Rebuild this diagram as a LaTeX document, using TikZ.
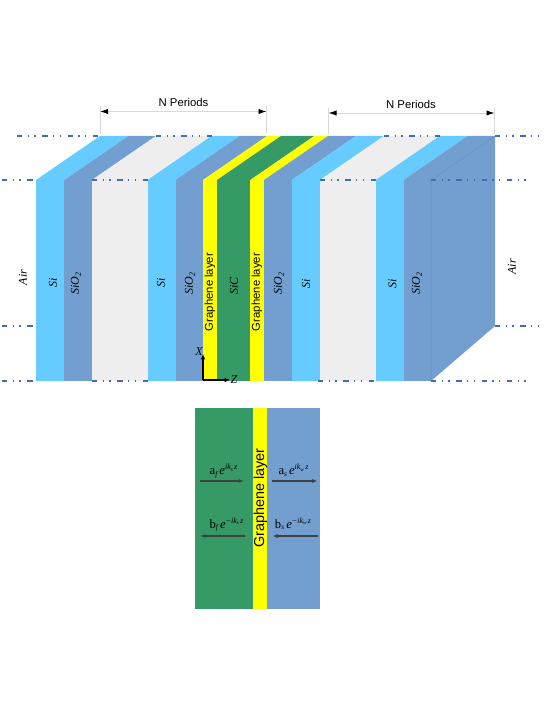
\documentclass[tikz,border=0pt]{standalone}
\usepackage{fontspec}
\setmainfont{Liberation Sans}
\newfontfamily\serifit{Liberation Serif}
\usetikzlibrary{arrows.meta}
\definecolor{cSi}{HTML}{66CCFF}
\definecolor{cOx}{HTML}{729FCF}
\definecolor{cGy}{HTML}{EEEEEE}
\definecolor{cGr}{HTML}{FFFF00}
\definecolor{cSc}{HTML}{359A65}
\definecolor{cDd}{HTML}{3F6FB0}
\definecolor{cDim}{HTML}{D9D9D9}
\tikzset{
  dashline/.style={cDd,line width=0.85pt,dash pattern=on 4pt off 4pt on 1pt off 4pt on 1pt off 5pt},
  dimline/.style={cDim,line width=0.7pt},
  dimarrow/.style={cDim,line width=0.7pt,{Latex[black,length=6pt,width=4pt]}-{Latex[black,length=6pt,width=4pt]}},
  axis/.style={black,line width=1pt,-{Latex[length=4pt,width=3.5pt]}},
  wave/.style={black!75,line width=1pt,-{Latex[length=4pt,width=3pt]}},
  lbl/.style={font=\serifit\itshape\fontsize{9}{10}\selectfont,rotate=90,inner sep=0pt},
  glbl/.style={font=\fontsize{8.5}{10}\selectfont,rotate=90,inner sep=0pt},
  eq/.style={font=\serifit\fontsize{9.5}{11}\selectfont,inner sep=0pt,anchor=base}
}
\newcommand{\band}[3]{%
  \fill[#3] (#1,180) -- (#1+64,136) -- (#2+64,136) -- (#2,180) -- cycle;
  \fill[#3] (#1,180) rectangle (#2,381);
}
\newcommand{\oxide}{SiO\raisebox{-1.5pt}{\fontsize{6}{7}\selectfont 2}}
\newcommand{\wavetext}[4]{#1\raisebox{-1.3pt}{\fontsize{5.5}{6}\selectfont\itshape #2}\,{\itshape e}\raisebox{3.6pt}{\fontsize{6}{7}\selectfont\itshape #3k\raisebox{-1pt}{\fontsize{4}{5}\selectfont #4}\,z}}
\begin{document}
\begin{tikzpicture}[x=0.75pt,y=-0.75pt]
\useasboundingbox (0,0) rectangle (545,705);
% layers
\band{36}{64.3}{cSi}
\band{64.3}{92}{cOx}
\band{92}{147.5}{cGy}
\band{147.5}{175.5}{cSi}
\band{175.5}{203}{cOx}
\band{203}{217}{cGr}
\band{217}{250.3}{cSc}
\band{250.3}{264}{cGr}
\band{264}{292}{cOx}
\band{292}{320}{cSi}
\band{320}{375.7}{cGy}
\band{375.7}{403.5}{cSi}
\band{403.5}{431}{cOx}
\fill[cOx] (431,180) -- (495,136) -- (495,326) -- (431,381) -- cycle;
\draw[cDd!35!cOx,line width=0.4pt] (431,381) -- (431,180) -- (495,136);
% dash-dot lines
\coordinate (a1) at (17,136); \coordinate (a2) at (100,136);
\coordinate (a3) at (156,136); \coordinate (a4) at (213,136);
\coordinate (a5) at (384,136); \coordinate (a6) at (441,136);
\coordinate (a7) at (495,136); \coordinate (a8) at (541,136);
\coordinate (b1) at (2,180); \coordinate (b2) at (36,180);
\coordinate (b3) at (92,180); \coordinate (b4) at (147.5,180);
\coordinate (b5) at (320,180); \coordinate (b6) at (381,180);
\coordinate (b7) at (431,180); \coordinate (b8) at (530,180);
\coordinate (c1) at (2,326); \coordinate (c2) at (36,326);
\coordinate (c3) at (495,326); \coordinate (c4) at (541,326);
\coordinate (d1) at (2,381); \coordinate (d2) at (36,381);
\coordinate (d3) at (92,381); \coordinate (d4) at (147.5,381);
\coordinate (d5) at (318,381); \coordinate (d6) at (376,381);
\coordinate (d7) at (431,381); \coordinate (d8) at (527,381);
\foreach \p/\q in {a1/a2,a3/a4,a5/a6,a7/a8,b1/b2,b3/b4,b5/b6,b7/b8,c1/c2,c3/c4,d1/d2,d3/d4,d5/d6,d7/d8}
  \draw[dashline] (\p) -- (\q);
% dimension lines
\coordinate (e1) at (100,134); \coordinate (e1t) at (100,106);
\coordinate (e2) at (266.5,134); \coordinate (e2t) at (266.5,106);
\coordinate (e3) at (328.5,134); \coordinate (e3t) at (328.5,108);
\coordinate (e4) at (494.5,134); \coordinate (e4t) at (494.5,108);
\draw[dimline] (e1) -- (e1t); \draw[dimline] (e2) -- (e2t);
\draw[dimline] (e3) -- (e3t); \draw[dimline] (e4) -- (e4t);
\coordinate (f1) at (100,111.5); \coordinate (f2) at (266.5,111.5);
\coordinate (f3) at (328.5,113); \coordinate (f4) at (494.5,113);
\draw[dimarrow] (f1) -- (f2);
\draw[dimarrow] (f3) -- (f4);
\node[font=\fontsize{8.5}{10}\selectfont,inner sep=0pt] (np1) at (183.5,102.5) {N Periods};
\node[font=\fontsize{8.5}{10}\selectfont,inner sep=0pt] (np2) at (411,104) {N Periods};
% labels
\node[lbl] (air1) at (23,277.5) {Air};
\node[lbl] (si1) at (53,282.5) {Si};
\node[lbl] (ox1) at (76,284) {\oxide};
\node[lbl] (si2) at (161,283) {Si};
\node[lbl] (ox2) at (190,284) {\oxide};
\node[glbl] (g1) at (210,292) {Graphene layer};
\node[lbl] (sic) at (234,286) {SiC};
\node[glbl] (g2) at (257,292) {Graphene layer};
\node[lbl] (ox3) at (279,284) {\oxide};
\node[lbl] (si3) at (306,284) {Si};
\node[lbl] (si4) at (392.5,284) {Si};
\node[lbl] (ox4) at (417,284) {\oxide};
\node[lbl] (air2) at (512,267) {Air};
% axes
\coordinate (o) at (203,380);
\coordinate (xe) at (203,354);
\coordinate (ze) at (230,380);
\draw[axis] (o) -- (xe);
\draw[axis] (o) -- (ze);
\node[font=\serifit\itshape\fontsize{9}{10}\selectfont,inner sep=0pt] (xl) at (199,352) {X};
\node[font=\serifit\itshape\fontsize{9}{10}\selectfont,inner sep=0pt] (zl) at (234,380) {Z};
% lower panel
\fill[cSc] (194.5,408) rectangle (253,608.5);
\fill[cGr] (253,408) rectangle (267,608.5);
\fill[cOx] (267,408) rectangle (320,608.5);
\node[glbl,font=\fontsize{10.8}{12}\selectfont] (g3) at (260.5,498) {Graphene layer};
\coordinate (w1) at (200,481); \coordinate (w2) at (244,481);
\coordinate (w3) at (272,481); \coordinate (w4) at (317.5,481);
\coordinate (w5) at (245,536); \coordinate (w6) at (200,536);
\coordinate (w7) at (317.5,536); \coordinate (w8) at (272.5,536);
\draw[wave] (w1) -- (w2); \draw[wave] (w3) -- (w4);
\draw[wave] (w5) -- (w6); \draw[wave] (w7) -- (w8);
\node[eq] (e1a) at (223.5,474.5) {\wavetext{a}{f}{i}{s}};
\node[eq] (e2a) at (293.5,474.5) {\wavetext{a}{s}{i}{w}};
\node[eq] (e3a) at (226.5,528) {\wavetext{b}{f}{−i}{s}};
\node[eq] (e4a) at (293,528) {\wavetext{b}{s}{−i}{w}};
\end{tikzpicture}
\end{document}
